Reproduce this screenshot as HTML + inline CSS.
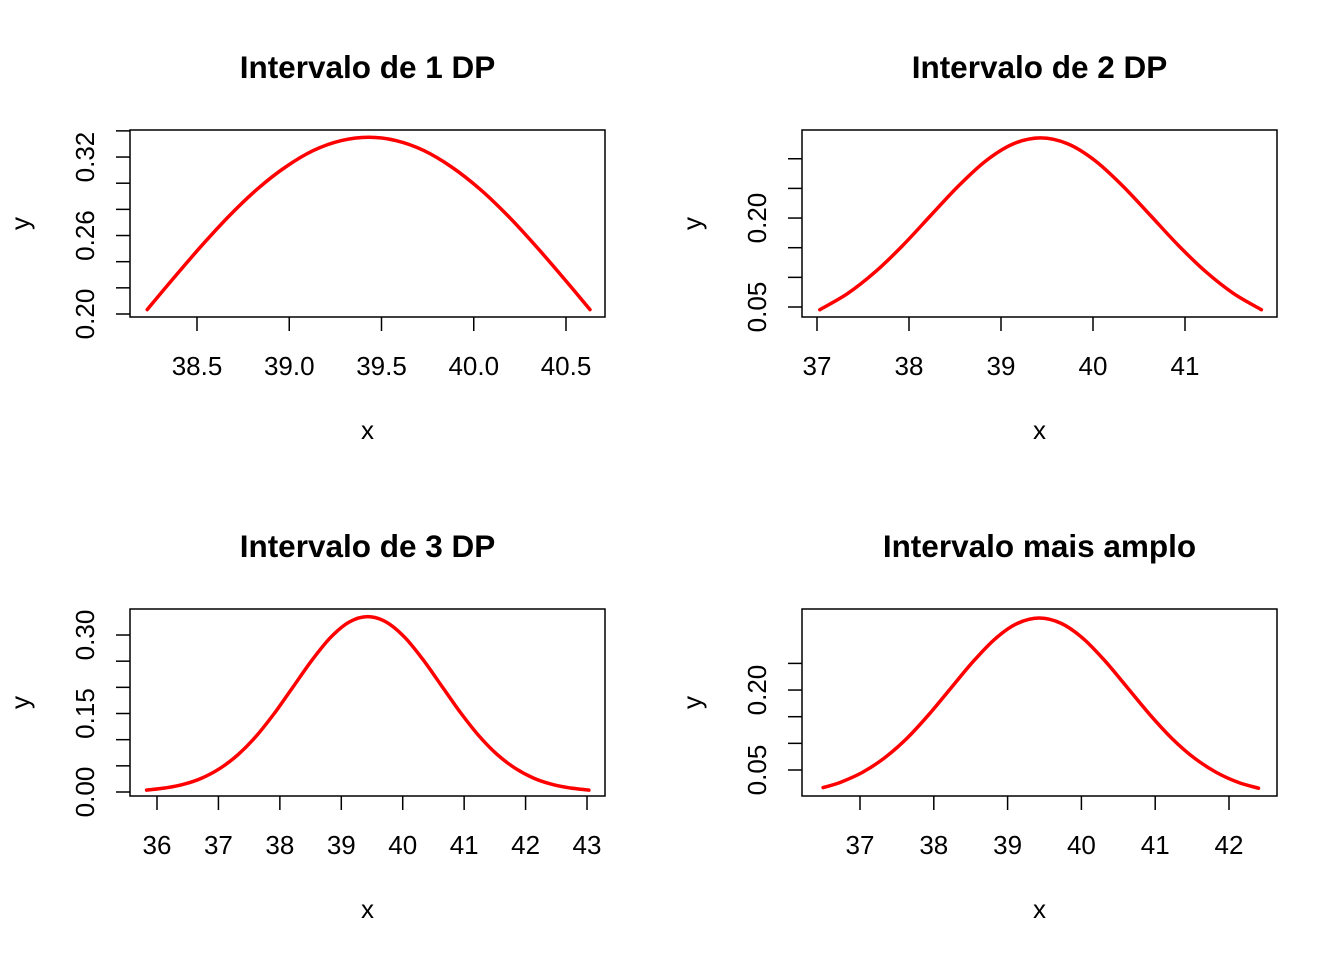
<!DOCTYPE html>
<html><head><meta charset="utf-8"><style>
body{margin:0;background:#fff}
svg{display:block;font-family:"Liberation Sans",Arial,sans-serif}
</style></head><body>
<svg id="chart" width="1344" height="960" viewBox="0 0 1344 960"></svg>
<script>
// panel data (x, density): normal curve, mean ~39.43, sd ~1.19
const titles = ["Intervalo de 1 DP","Intervalo de 2 DP","Intervalo de 3 DP","Intervalo mais amplo"];
const xs1 = [38.23,38.38,38.53,38.68,38.83,38.98,39.13,39.28,39.43,39.58,39.73,39.88,40.03,40.18,40.33,40.48,40.63];
const ys1 = [0.2034,0.2286,0.2530,0.2758,0.2959,0.3124,0.3249,0.3325,0.3352,0.3325,0.3249,0.3124,0.2959,0.2758,0.2530,0.2286,0.2034];
const xs2 = [37.03,37.33,37.63,37.93,38.23,38.53,38.83,39.13,39.43,39.73,40.03,40.33,40.63,40.93,41.23,41.53,41.83];
const ys2 = [0.0454,0.0725,0.1088,0.1535,0.2034,0.2530,0.2959,0.3249,0.3352,0.3249,0.2959,0.2530,0.2034,0.1535,0.1088,0.0725,0.0454];
const xs3 = [35.83,36.13,36.43,36.73,37.03,37.33,37.63,37.93,38.23,38.53,38.83,39.13,39.43,39.73,40.03,40.33,40.63,40.93,41.23,41.53,41.83,42.13,42.43,42.73,43.03];
const ys3 = [0.0037,0.0077,0.0147,0.0266,0.0454,0.0725,0.1088,0.1535,0.2034,0.2530,0.2959,0.3249,0.3352,0.3249,0.2959,0.2530,0.2034,0.1535,0.1088,0.0725,0.0454,0.0266,0.0147,0.0077,0.0037];
const xs4 = [36.50,36.73,37.03,37.33,37.63,37.93,38.23,38.53,38.83,39.13,39.43,39.73,40.03,40.33,40.63,40.93,41.23,41.53,41.83,42.13,42.40];
const ys4 = [0.0170,0.0266,0.0454,0.0725,0.1088,0.1535,0.2034,0.2530,0.2959,0.3249,0.3352,0.3249,0.2959,0.2530,0.2034,0.1535,0.1088,0.0725,0.0454,0.0266,0.0159];
const xt1 = ["38.5","39.0","39.5","40.0","40.5"];
const xt2 = ["37","38","39","40","41"];
const xt3 = ["36","37","38","39","40","41","42","43"];
const xt4 = ["37","38","39","40","41","42"];
const yt1 = [0.20,0.22,0.24,0.26,0.28,0.30,0.32,0.34];
const yl1 = ["0.20","0.26","0.32"];
const yt2 = [0.05,0.10,0.15,0.20,0.25,0.30];
const yl2 = ["0.05","0.20"];
const yt3 = [0.00,0.05,0.10,0.15,0.20,0.25,0.30];
const yl3 = ["0.00","0.15","0.30"];
const yt4 = [0.05,0.10,0.15,0.20,0.25];
const yl4 = ["0.05","0.20"];

const NS="http://www.w3.org/2000/svg";
const svg=document.getElementById('chart');
function mk(t,a,p){const e=document.createElementNS(NS,t);for(const k in a)e.setAttribute(k,a[k]);(p||svg).appendChild(e);return e;}
function smooth(P){
  let d='M'+P[0][0].toFixed(1)+','+P[0][1].toFixed(1);
  for(let i=0;i<P.length-1;i++){
    const p0=P[Math.max(0,i-1)],p1=P[i],p2=P[i+1],p3=P[Math.min(P.length-1,i+2)];
    const c1=[p1[0]+(p2[0]-p0[0])/6,p1[1]+(p2[1]-p0[1])/6];
    const c2=[p2[0]-(p3[0]-p1[0])/6,p2[1]-(p3[1]-p1[1])/6];
    d+=' C'+c1.map(v=>v.toFixed(1)).join(',')+' '+c2.map(v=>v.toFixed(1)).join(',')+' '+p2[0].toFixed(1)+','+p2[1].toFixed(1);
  }
  return d;
}

const panels=[
 {bx:130,by:130,xs:xs1,ys:ys1,xt:xt1,yt:yt1,yl:yl1,cal:[38.5,197,184.5,0.20,314,1308]},
 {bx:802,by:130,xs:xs2,ys:ys2,xt:xt2,yt:yt2,yl:yl2,cal:[37,817,92,0.05,307,593]},
 {bx:130,by:609,xs:xs3,ys:ys3,xt:xt3,yt:yt3,yl:yl3,cal:[36,157,61.43,0.00,792,523.3]},
 {bx:802,by:609,xs:xs4,ys:ys4,xt:xt4,yt:yt4,yl:yl4,cal:[37,860,73.8,0.05,770,533]}
];
panels.forEach((p,i)=>{
  const g=mk('g',{});
  
  
  const c=p.cal;
  const X=v=>c[1]+(v-c[0])*c[2];
  const Y=v=>c[4]-(v-c[3])*c[5];
  const W=475,H=187,cx=p.bx+W/2;
  const t=mk('text',{x:cx,y:p.by-52,'text-anchor':'middle','font-size':'31.5','font-weight':'bold'},g);
  t.textContent=titles[i];
  
  
  const box=mk('rect',{x:p.bx,y:p.by,width:W,height:H,fill:'none',stroke:'#000','stroke-width':1.5},g);
  
  
  p.xt.forEach(l=>{
    const px=X(parseFloat(l));
    const tk=mk('line',{x1:px,x2:px,y1:p.by+H,y2:p.by+H+14,stroke:'#000','stroke-width':1.5},g);
    
    
    const tl=mk('text',{x:px,y:p.by+H+58,'text-anchor':'middle','font-size':'26'},g);
    tl.textContent=l;
    
    
  });
  p.yt.forEach(v=>{
    const py=Y(v);
    const tk=mk('line',{x1:p.bx,x2:p.bx-14,y1:py,y2:py,stroke:'#000','stroke-width':1.5},g);
    
    
  });
  p.yl.forEach(l=>{
    const py=Y(parseFloat(l)), lx=p.bx-36;
    const tl=mk('text',{x:lx,y:py,'text-anchor':'middle','font-size':'26',transform:`rotate(-90 ${lx} ${py})`},g);
    tl.textContent=l;
    
    
  });
  const xl=mk('text',{x:cx,y:p.by+H+122,'text-anchor':'middle','font-size':'26'},g);
  xl.textContent='x';
  
  
  const yx=p.bx-101, yy=p.by+H/2;
  const yl=mk('text',{x:yx,y:yy,'text-anchor':'middle','font-size':'26',transform:`rotate(-90 ${yx} ${yy})`},g);
  yl.textContent='y';
  
  
  const P=p.xs.map((x,j)=>[X(x),Y(p.ys[j])]);
  const ln=mk('path',{d:smooth(P),fill:'none',stroke:'#ff0000','stroke-width':3.5,'stroke-linejoin':'round','stroke-linecap':'round'},g);
  
  
});
</script>
</body></html>
